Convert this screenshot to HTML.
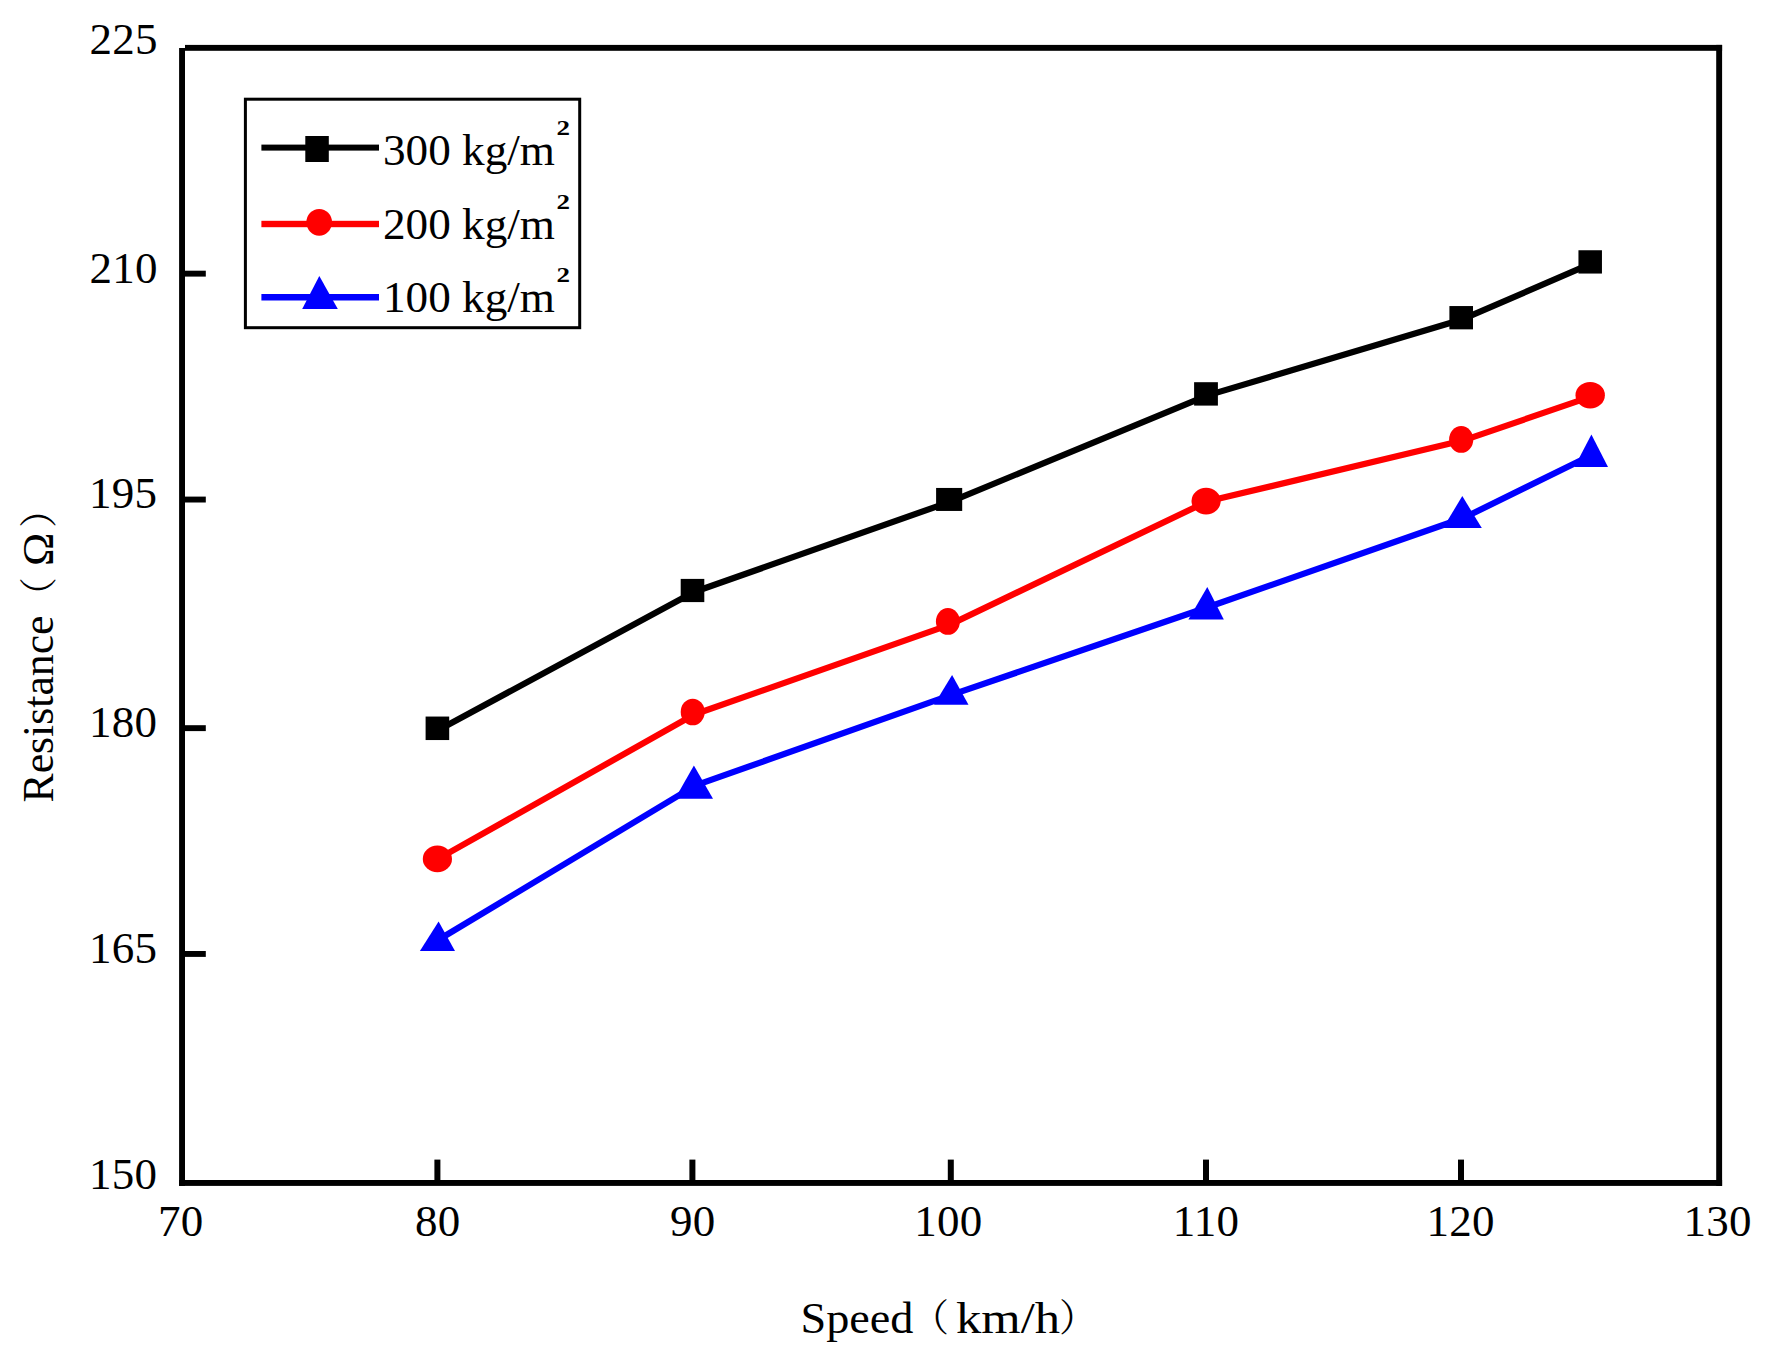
<!DOCTYPE html>
<html lang="en"><head><meta charset="utf-8"><title>Resistance vs Speed</title>
<style>html,body{margin:0;padding:0;background:#fff;}svg{display:block;}text{font-family:"Liberation Serif", "Noto Serif CJK SC", serif;font-size:45px;fill:#000;}.n{letter-spacing:0.30px;}</style></head><body>
<svg width="1768" height="1360" viewBox="0 0 1768 1360">
<rect x="0" y="0" width="1768" height="1360" fill="#fff"/>
<g fill="#000">
<rect x="185.0" y="44.9" width="1537.1" height="5.9"/>
<rect x="179.1" y="1180.0" width="1543.0" height="5.9"/>
<rect x="179.1" y="48.0" width="5.9" height="1137.9"/>
<rect x="1716.2" y="44.9" width="5.9" height="1141.0"/>
<rect x="185.0" y="270.7" width="20.8" height="5.9"/>
<rect x="185.0" y="496.6" width="20.8" height="5.9"/>
<rect x="185.0" y="725.2" width="20.8" height="5.9"/>
<rect x="185.0" y="951.0" width="20.8" height="5.9"/>
<rect x="434.4" y="1159.6" width="6.0" height="20.4"/>
<rect x="689.4" y="1159.6" width="6.0" height="20.4"/>
<rect x="947.8" y="1159.6" width="6.0" height="20.4"/>
<rect x="1203.0" y="1159.6" width="6.0" height="20.4"/>
<rect x="1458.0" y="1159.6" width="6.0" height="20.4"/>
</g>
<polyline fill="none" stroke="#000" stroke-width="6.2" stroke-linejoin="round" points="438.9,729.8 694.0,592.0 950.6,501.6 1207.5,395.4 1462.7,319.2 1591.7,263.4"/>
<rect x="425.60" y="716.55" width="23.6" height="23.5" fill="#000"/>
<rect x="680.70" y="578.90" width="23.6" height="23.2" fill="#000"/>
<rect x="936.10" y="487.95" width="26.1" height="23.0" fill="#000"/>
<rect x="1194.10" y="382.20" width="23.8" height="23.4" fill="#000"/>
<rect x="1449.40" y="306.05" width="23.6" height="23.3" fill="#000"/>
<rect x="1578.45" y="250.25" width="23.5" height="23.3" fill="#000"/>
<polyline fill="none" stroke="#f00" stroke-width="6.2" stroke-linejoin="round" points="438.9,858.4 694.2,714.5 949.4,624.9 1207.6,501.3 1462.7,440.6 1591.7,396.4"/>
<ellipse cx="437.4" cy="858.9" rx="14.6" ry="13.3" fill="#f00"/>
<ellipse cx="692.7" cy="712.0" rx="12.0" ry="13.3" fill="#f00"/>
<ellipse cx="947.9" cy="621.4" rx="12.0" ry="13.4" fill="#f00"/>
<ellipse cx="1206.1" cy="501.1" rx="14.6" ry="13.3" fill="#f00"/>
<ellipse cx="1461.2" cy="439.4" rx="12.1" ry="13.4" fill="#f00"/>
<ellipse cx="1590.2" cy="395.2" rx="14.7" ry="13.3" fill="#f00"/>
<polyline fill="none" stroke="#00f" stroke-width="6.2" stroke-linejoin="round" points="438.9,939.5 695.5,785.4 952.8,694.4 1207.6,607.3 1463.9,517.8 1592.8,454.5"/>
<polygon fill="#00f" points="438.6,921.4 419.9,951.1 455.0,951.1"/>
<polygon fill="#00f" points="693.9,765.6 675.0,798.8 713.0,798.8"/>
<polygon fill="#00f" points="952.1,675.0 934.0,704.8 968.5,704.8"/>
<polygon fill="#00f" points="1207.3,587.1 1188.4,619.6 1223.8,619.6"/>
<polygon fill="#00f" points="1462.3,496.1 1443.0,528.1 1481.8,528.1"/>
<polygon fill="#00f" points="1591.4,434.4 1574.5,466.9 1608.0,466.9"/>
<rect x="245.4" y="99.2" width="334.3" height="228.5" fill="#fff" stroke="#000" stroke-width="3"/>
<rect x="261.4" y="144.6" width="117.6" height="6" fill="#000"/>
<rect x="305.3" y="136" width="23.5" height="26" fill="#000"/>
<rect x="261.4" y="220.8" width="117.6" height="6.4" fill="#f00"/>
<ellipse cx="319.2" cy="222.3" rx="12.8" ry="13.4" fill="#f00"/>
<rect x="261.4" y="294" width="117.6" height="6.5" fill="#00f"/>
<polygon fill="#00f" points="319.3,275.9 302.2,308.9 337.8,308.9"/>
<text x="383" y="165.2" textLength="172" lengthAdjust="spacingAndGlyphs">300 kg/m</text>
<text x="556.5" y="135.2" textLength="13.5" lengthAdjust="spacingAndGlyphs" style="font-size:21px;font-weight:bold">2</text>
<text x="383" y="238.8" textLength="172" lengthAdjust="spacingAndGlyphs">200 kg/m</text>
<text x="556.5" y="208.8" textLength="13.5" lengthAdjust="spacingAndGlyphs" style="font-size:21px;font-weight:bold">2</text>
<text x="383" y="312.1" textLength="172" lengthAdjust="spacingAndGlyphs">100 kg/m</text>
<text x="556.5" y="282.1" textLength="13.5" lengthAdjust="spacingAndGlyphs" style="font-size:21px;font-weight:bold">2</text>
<text class="n" x="89.5" y="54.0">225</text>
<text class="n" x="89.5" y="282.8">210</text>
<text class="n" x="89.0" y="508.2">195</text>
<text class="n" x="89.0" y="737.2">180</text>
<text class="n" x="89.0" y="963.0">165</text>
<text class="n" x="89.0" y="1189.0">150</text>
<text class="n" x="158.0" y="1236">70</text>
<text class="n" x="415.0" y="1236">80</text>
<text class="n" x="670.0" y="1236">90</text>
<text class="n" x="914.2" y="1236">100</text>
<text class="n" x="1172.7" y="1236">110</text>
<text class="n" x="1426.5" y="1236">120</text>
<text class="n" x="1683.5" y="1236">130</text>
<text x="800.5" y="1332.5" textLength="113" lengthAdjust="spacingAndGlyphs">Speed</text>
<text x="911" y="1331" style="font-size:38px">（</text>
<text x="956" y="1332.5" textLength="104" lengthAdjust="spacingAndGlyphs">km/h</text>
<text x="1059" y="1331" style="font-size:38px">）</text>
<g transform="translate(53.4,0) rotate(-90)">
<text x="-802.5" y="0" textLength="187" lengthAdjust="spacingAndGlyphs">Resistance</text>
<text x="-615" y="-1.5" style="font-size:38px">（</text>
<text x="-566" y="0">Ω</text>
<text x="-528" y="-1.5" style="font-size:38px">）</text>
</g>
</svg></body></html>
